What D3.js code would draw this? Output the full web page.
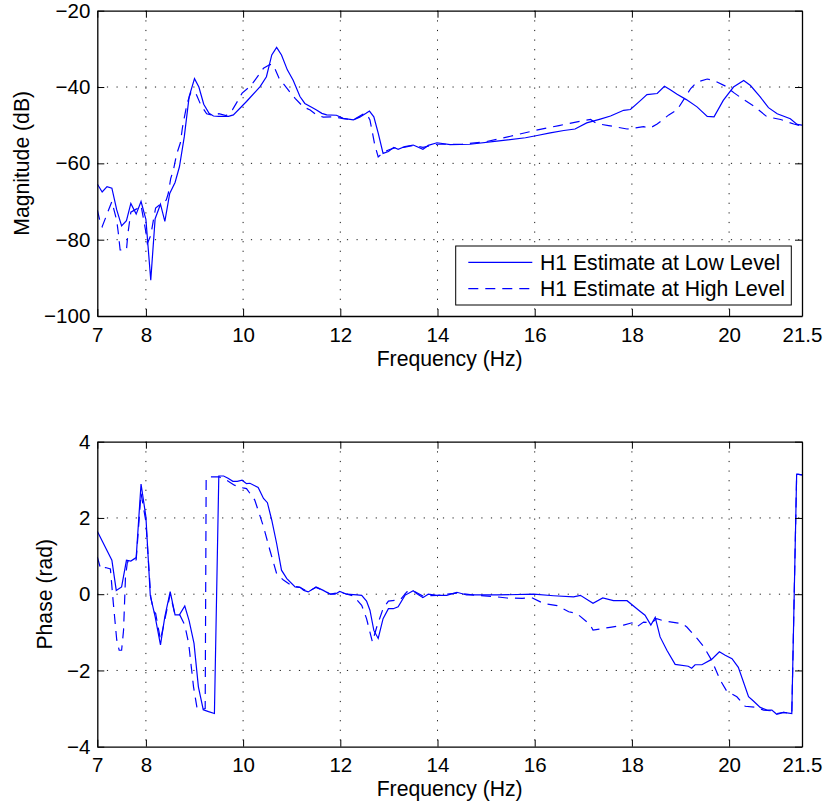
<!DOCTYPE html>
<html>
<head>
<meta charset="utf-8">
<script src="https://cdn.jsdelivr.net/npm/d3@7"></script>
<style>
  body { margin: 0; background: #fff; }
  svg { font-family: "Liberation Sans", Arial, sans-serif; }
</style>
</head>
<body>
<div id="chart"></div>
<script>
const xTicks = [7, 8, 10, 12, 14, 16, 18, 20, 21.5];
const magTicks = [-100, -80, -60, -40, -20];
const phaseTicks = [-4, -2, 0, 2, 4];
const legendLabels = ["H1 Estimate at Low Level", "H1 Estimate at High Level"];

// [frequency (Hz), magnitude (dB)]
const magLow = [
  [7.00, -65.4], [7.10, -67.5], [7.20, -66.1], [7.30, -66.5], [7.40, -72.2], [7.50, -76.4],
  [7.60, -75.0], [7.69, -70.5], [7.80, -73.3], [7.90, -70.0], [8.00, -74.7], [8.10, -90.6],
  [8.19, -74.5], [8.30, -70.7], [8.39, -75.2], [8.49, -67.9], [8.60, -65.0], [8.69, -60.9],
  [8.79, -53.0], [8.89, -42.5], [9.00, -37.8], [9.09, -40.0], [9.19, -44.5], [9.30, -46.9],
  [9.39, -47.6], [9.50, -47.7], [9.70, -47.7], [9.80, -47.3], [10.07, -43.8], [10.35, -39.9],
  [10.48, -37.3], [10.59, -31.6], [10.69, -29.6], [10.79, -31.6], [10.91, -35.5], [11.03, -38.2],
  [11.17, -42.5], [11.27, -44.3], [11.41, -45.3], [11.51, -46.0], [11.62, -46.9], [11.72, -47.3],
  [11.92, -47.4], [12.06, -48.2], [12.27, -48.6], [12.40, -47.9], [12.53, -46.9], [12.60, -46.3],
  [12.69, -47.8], [12.78, -52.1], [12.88, -57.4], [12.99, -56.9], [13.10, -55.8], [13.19, -56.3],
  [13.33, -55.6], [13.50, -55.2], [13.57, -55.6], [13.70, -56.3], [13.81, -55.3], [13.99, -54.6],
  [14.26, -55.1], [14.67, -55.0], [15.22, -54.2], [15.81, -53.3], [16.05, -52.7], [16.32, -52.0],
  [16.60, -51.4], [16.83, -51.0], [17.07, -49.4], [17.35, -48.4], [17.56, -47.6], [17.83, -46.1],
  [17.97, -45.9], [18.18, -43.5], [18.31, -42.0], [18.52, -41.7], [18.67, -39.8], [18.79, -40.7],
  [18.93, -41.9], [19.12, -43.3], [19.34, -45.2], [19.55, -47.7], [19.69, -47.8], [19.88, -43.5],
  [20.09, -40.0], [20.30, -38.3], [20.44, -39.6], [20.64, -42.6], [20.81, -45.4], [20.99, -47.0],
  [21.26, -48.3], [21.40, -49.8], [21.50, -50.0]
];
const magHigh = [
  [7.00, -72.2], [7.06, -75.4], [7.10, -76.6], [7.20, -73.3], [7.30, -70.0], [7.40, -75.0],
  [7.43, -78.0], [7.47, -82.7], [7.60, -82.7], [7.63, -78.4], [7.69, -72.8], [7.80, -72.0],
  [7.90, -71.0], [8.00, -78.0], [8.03, -81.0], [8.10, -78.9], [8.15, -75.2], [8.20, -71.7],
  [8.30, -70.7], [8.42, -69.6], [8.46, -67.9], [8.51, -64.0], [8.57, -61.5], [8.63, -57.7],
  [8.71, -54.6], [8.75, -50.8], [8.79, -48.0], [8.85, -44.2], [8.93, -41.2], [9.02, -41.4],
  [9.13, -44.7], [9.25, -47.0], [9.40, -47.5], [9.50, -47.0], [9.65, -47.5], [9.78, -46.0],
  [9.90, -43.4], [9.98, -41.6], [10.10, -40.3], [10.21, -38.8], [10.42, -35.1], [10.55, -34.1],
  [10.62, -34.2], [10.74, -37.7], [10.90, -40.3], [11.07, -43.0], [11.24, -45.2], [11.38, -46.0],
  [11.51, -47.3], [11.65, -47.9], [11.86, -47.8], [12.06, -48.3], [12.27, -48.6], [12.47, -47.1],
  [12.54, -47.0], [12.61, -48.6], [12.71, -55.2], [12.78, -58.3], [12.88, -57.2], [12.99, -56.5],
  [13.10, -56.0], [13.30, -55.8], [13.50, -55.3], [13.70, -55.8], [14.00, -55.0], [14.50, -55.0],
  [15.00, -54.3], [15.50, -52.9], [16.00, -51.4], [16.50, -50.1], [17.00, -48.8], [17.15, -48.5],
  [17.28, -49.6], [17.52, -50.1], [17.90, -51.0], [18.24, -50.4], [18.38, -50.7], [18.52, -49.7],
  [18.76, -47.3], [18.93, -46.0], [19.21, -40.4], [19.34, -38.7], [19.55, -37.9], [19.69, -38.3],
  [19.93, -39.8], [20.11, -41.6], [20.30, -43.3], [20.51, -45.0], [20.78, -47.8], [21.06, -48.5],
  [21.33, -49.7], [21.50, -50.2]
];

// [frequency (Hz), phase (rad)]
const phaseLow = [
  [7.00, 1.65], [7.30, 0.89], [7.39, 0.10], [7.50, 0.19], [7.60, 0.89], [7.69, 0.87],
  [7.80, 0.96], [7.90, 2.89], [8.00, 2.03], [8.09, -0.03], [8.19, -0.59], [8.30, -1.33],
  [8.39, -0.59], [8.50, 0.07], [8.60, -0.54], [8.69, -0.54], [8.80, -0.31], [8.89, -0.70],
  [8.99, -1.29], [9.08, -2.43], [9.18, -3.03], [9.29, -3.08], [9.41, -3.13], [9.50, 3.10],
  [9.60, 3.10], [9.69, 3.04], [9.79, 2.96], [9.88, 2.96], [9.98, 2.99], [10.07, 2.90],
  [10.14, 2.91], [10.31, 2.80], [10.42, 2.51], [10.50, 2.40], [10.59, 1.94], [10.69, 1.33],
  [10.79, 0.63], [10.90, 0.41], [11.07, 0.19], [11.17, 0.18], [11.25, 0.10], [11.34, 0.06],
  [11.50, 0.19], [11.65, 0.10], [11.79, 0.00], [11.89, 0.00], [11.99, 0.07], [12.13, 0.00],
  [12.34, -0.02], [12.44, -0.03], [12.54, -0.18], [12.61, -0.42], [12.69, -0.95], [12.78, -1.16],
  [12.88, -0.64], [12.99, -0.38], [13.09, -0.38], [13.19, -0.33], [13.33, -0.03], [13.50, 0.09],
  [13.57, 0.02], [13.70, -0.09], [13.81, 0.00], [13.99, -0.03], [14.19, -0.03], [14.40, 0.05],
  [14.60, -0.02], [15.22, -0.02], [15.98, 0.00], [16.39, -0.04], [16.80, -0.07], [16.94, -0.03],
  [17.20, -0.24], [17.40, -0.10], [17.62, -0.17], [17.90, -0.17], [18.14, -0.42], [18.27, -0.55],
  [18.39, -0.81], [18.48, -0.61], [18.58, -1.12], [18.72, -1.47], [18.89, -1.84], [19.16, -1.89],
  [19.23, -1.94], [19.30, -1.85], [19.44, -1.85], [19.64, -1.71], [19.80, -1.51], [19.92, -1.60],
  [20.06, -1.69], [20.19, -1.92], [20.40, -2.69], [20.50, -2.80], [20.64, -2.97], [20.78, -3.04],
  [20.88, -3.04], [20.98, -3.15], [21.12, -3.10], [21.29, -3.13], [21.39, 3.15], [21.50, 3.13]
];
const phaseHigh = [
  [7.00, 0.98], [7.07, 0.66], [7.17, 0.70], [7.27, 0.66], [7.33, -0.24], [7.40, -1.20],
  [7.45, -1.47], [7.50, -1.47], [7.54, -0.95], [7.58, 0.45], [7.62, 0.85], [7.70, 0.87],
  [7.80, 0.90], [7.90, 2.65], [8.00, 1.90], [8.10, -0.08], [8.16, -0.45], [8.20, -0.50],
  [8.30, -1.20], [8.40, -0.60], [8.50, 0.00], [8.60, -0.55], [8.70, -0.55], [8.80, -0.81],
  [8.88, -1.29], [8.98, -2.43], [9.05, -2.97], [9.13, -3.04], [9.22, -3.00], [9.24, 3.05],
  [9.30, 3.08], [9.50, 3.08], [9.65, 3.00], [9.82, 2.86], [10.00, 2.79], [10.07, 2.77],
  [10.24, 2.47], [10.42, 1.77], [10.55, 1.16], [10.69, 0.54], [10.83, 0.37], [11.00, 0.22],
  [11.17, 0.18], [11.34, 0.06], [11.50, 0.18], [11.65, 0.10], [11.80, 0.00], [12.00, 0.05],
  [12.27, -0.05], [12.44, -0.29], [12.54, -0.64], [12.66, -1.25], [12.75, -0.86], [12.88, -0.38],
  [12.99, -0.18], [13.23, -0.15], [13.37, 0.06], [13.50, 0.09], [13.70, -0.05], [14.00, -0.03],
  [14.40, 0.03], [14.80, -0.03], [15.22, -0.07], [15.43, -0.10], [15.74, -0.11], [15.94, -0.09],
  [16.18, -0.24], [16.46, -0.30], [16.70, -0.46], [16.87, -0.51], [17.14, -0.80], [17.20, -0.94],
  [17.55, -0.87], [17.83, -0.81], [18.00, -0.75], [18.10, -0.86], [18.24, -0.73], [18.41, -0.75],
  [18.51, -0.64], [18.65, -0.70], [18.92, -0.75], [19.03, -0.77], [19.13, -0.86], [19.34, -1.16],
  [19.47, -1.36], [19.64, -1.73], [19.82, -2.26], [19.95, -2.54], [20.16, -2.69], [20.33, -2.94],
  [20.57, -2.97], [20.71, -3.04], [20.88, -3.06], [20.98, -3.13], [21.12, -3.10], [21.29, -3.13],
  [21.39, 3.15], [21.50, 3.13]
];

const width = 825;
const height = 810;
const margin = {left: 97.3, right: 23};
const tickFont = 20.5;
const labelFont = 21.2;
const blue = "#0000ff";
const dashStyle = "10,7";

const svg = d3.select("#chart").append("svg")
    .attr("width", width)
    .attr("height", height)
    .style("background", "#fff");

const x = d3.scaleLinear()
    .domain([7, 21.5])
    .range([margin.left, width - margin.right]);

const fmt = d3.format("~g");

function drawPanel(opts) {
  const y = d3.scaleLinear()
      .domain(opts.domain)
      .range([opts.bottom, opts.top]);

  const g = svg.append("g");

  const clipId = "clip-" + opts.id;
  g.append("clipPath").attr("id", clipId)
    .append("rect")
      .attr("x", x.range()[0])
      .attr("y", opts.top)
      .attr("width", x.range()[1] - x.range()[0])
      .attr("height", opts.bottom - opts.top);

  // dotted grid
  const grid = g.append("g")
      .attr("stroke", "#000")
      .attr("stroke-width", 0.9)
      .attr("stroke-dasharray", "1.2,8.4");
  grid.selectAll(".gx")
    .data(xTicks.slice(1, -1))
    .join("line")
      .attr("x1", d => x(d)).attr("x2", d => x(d))
      .attr("y1", opts.top).attr("y2", opts.bottom);
  grid.selectAll(".gy")
    .data(opts.ticks.slice(1, -1))
    .join("line")
      .attr("y1", d => y(d)).attr("y2", d => y(d))
      .attr("x1", x.range()[0]).attr("x2", x.range()[1]);

  const line = d3.line()
      .x(d => x(d[0]))
      .y(d => y(d[1]));

  const lines = g.append("g").attr("clip-path", `url(#${clipId})`);
  lines.append("path")
      .datum(opts.high)
      .attr("fill", "none")
      .attr("stroke", blue)
      .attr("stroke-width", 1.2)
      .attr("stroke-dasharray", dashStyle)
      .attr("d", line);
  lines.append("path")
      .datum(opts.low)
      .attr("fill", "none")
      .attr("stroke", blue)
      .attr("stroke-width", 1.2)
      .attr("d", line);

  // axes, ticks pointing inward on all four sides
  const styleAxis = a => a
      .call(s => s.select(".domain").attr("stroke", "#000").attr("stroke-width", 1.3))
      .call(s => s.selectAll(".tick line").attr("stroke", "#000"))
      .call(s => s.selectAll(".tick text").attr("fill", "#000"))
      .attr("font-size", tickFont)
      .attr("font-family", null);

  g.append("g")
      .attr("transform", `translate(0,${opts.bottom})`)
      .call(d3.axisBottom(x).tickValues(xTicks).tickFormat(fmt)
        .tickSizeInner(-7).tickSizeOuter(0).tickPadding(11))
      .call(styleAxis);
  g.append("g")
      .attr("transform", `translate(0,${opts.top})`)
      .call(d3.axisTop(x).tickValues(xTicks).tickFormat("")
        .tickSizeInner(-7).tickSizeOuter(0))
      .call(styleAxis);
  g.append("g")
      .attr("transform", `translate(${x.range()[0]},0)`)
      .call(d3.axisLeft(y).tickValues(opts.ticks).tickFormat(fmt)
        .tickSizeInner(-7).tickSizeOuter(0).tickPadding(7))
      .call(styleAxis);
  g.append("g")
      .attr("transform", `translate(${x.range()[1]},0)`)
      .call(d3.axisRight(y).tickValues(opts.ticks).tickFormat("")
        .tickSizeInner(-7).tickSizeOuter(0))
      .call(styleAxis);

  g.append("text")
      .attr("x", (x.range()[0] + x.range()[1]) / 2)
      .attr("y", opts.bottom + 49.5)
      .attr("text-anchor", "middle")
      .attr("font-size", labelFont)
      .text("Frequency (Hz)");

  g.append("text")
      .attr("transform", `translate(${opts.labelX},${(opts.top + opts.bottom) / 2}) rotate(-90)`)
      .attr("text-anchor", "middle")
      .attr("font-size", labelFont)
      .text(opts.label);

  return {g, y};
}

const magPanel = drawPanel({
  id: "mag", top: 10.7, bottom: 316, domain: [-100, -20], ticks: magTicks,
  low: magLow, high: magHigh, label: "Magnitude (dB)", labelX: 29
});

drawPanel({
  id: "phase", top: 441.7, bottom: 746.7, domain: [-4, 4], ticks: phaseTicks,
  low: phaseLow, high: phaseHigh, label: "Phase (rad)", labelX: 51.5
});

// legend in the lower right corner of the magnitude plot
const legend = magPanel.g.append("g")
    .attr("transform", `translate(${x.range()[1] - 346.3},246)`);
legend.append("rect")
    .attr("width", 335.6)
    .attr("height", 59)
    .attr("fill", "#fff")
    .attr("stroke", "#000")
    .attr("stroke-width", 1);
const item = legend.selectAll(".item")
  .data(legendLabels)
  .join("g")
    .attr("transform", (d, i) => `translate(0,${16.3 + i * 26.4})`);
item.append("line")
    .attr("x1", 12.6).attr("x2", 76.6)
    .attr("stroke", blue)
    .attr("stroke-width", 1.2)
    .attr("stroke-dasharray", (d, i) => i ? dashStyle : null);
item.append("text")
    .attr("x", 84.3)
    .attr("y", 7.4)
    .attr("font-size", labelFont)
    .text(d => d);
</script>
</body>
</html>
